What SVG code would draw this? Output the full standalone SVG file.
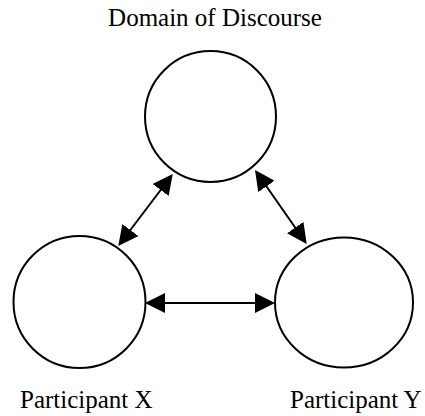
<svg xmlns="http://www.w3.org/2000/svg" width="425" height="416" viewBox="0 0 425 416">
  <style>
    .node { fill: #ffffff; stroke: #000000; stroke-width: 2; }
    .label { font-family: "Liberation Serif", "Times New Roman", serif; font-size: 25px; fill: #000000; }
    .link { stroke: #000000; stroke-width: 2; fill: none; marker-start: url(#head); marker-end: url(#head); }
  </style>
  <defs>
    <marker id="head" markerUnits="userSpaceOnUse" markerWidth="20" markerHeight="20" refX="5" refY="10" orient="auto-start-reverse" viewBox="0 0 20 20">
      <path d="M0,0 L20,10 L0,20 z" fill="#000000"/>
    </marker>
  </defs>
  <rect width="425" height="416" fill="#ffffff"/>

  <g id="domain">
    <circle class="node" cx="210.5" cy="116.5" r="65.5"/>
    <text class="label" x="215" y="25.5" text-anchor="middle">Domain of Discourse</text>
  </g>

  <g id="participant-x">
    <circle class="node" cx="79.5" cy="302" r="66"/>
    <text class="label" x="20" y="408">Participant X</text>
  </g>

  <g id="participant-y">
    <ellipse class="node" cx="344" cy="302.5" rx="69" ry="65"/>
    <text class="label" x="290" y="408">Participant Y</text>
  </g>

  <g id="connectors">
    <line class="link" x1="163.7" y1="186" x2="127.3" y2="234"/>
    <line class="link" x1="263.6" y1="182.3" x2="298.1" y2="231.7"/>
    <line class="link" x1="160" y1="303" x2="260" y2="303"/>
  </g>
</svg>
